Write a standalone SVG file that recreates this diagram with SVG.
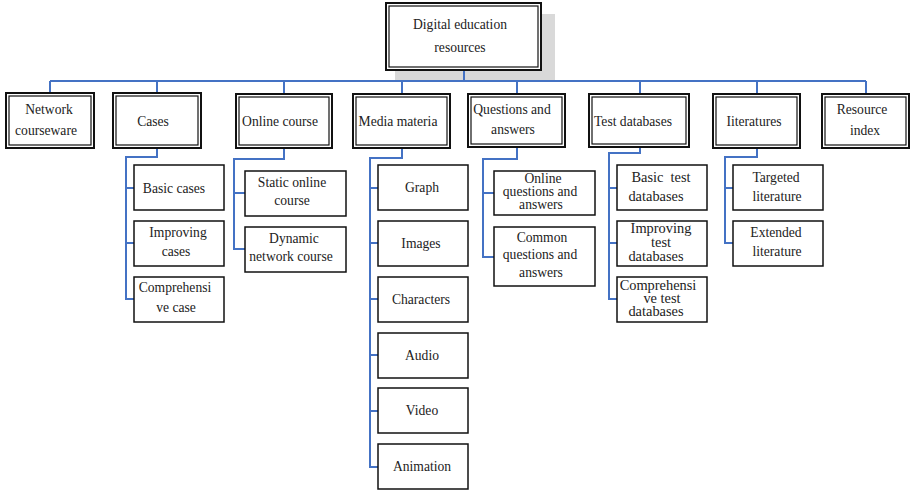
<svg xmlns="http://www.w3.org/2000/svg" width="911" height="491" viewBox="0 0 911 491" font-family="'Liberation Serif', 'DejaVu Serif', serif">
<style>
text{font-family:"Liberation Serif","DejaVu Serif",serif;font-size:13.6px;fill:#222;text-anchor:middle}
.big{font-size:14.4px}
.o{fill:#fff;stroke:#111;stroke-width:2}
.i{fill:none;stroke:#111;stroke-width:1.2}
.s{fill:#fff;stroke:#111;stroke-width:1.5}
.c{fill:none;stroke:#4472c4;stroke-width:2}
</style>
<rect x="395" y="14" width="160" height="68" fill="#d9d9d9"/>
<g id="connectors">
<path class="c" d="M464 71V81M50 81H866M50 81V92M157 81V92M284 81V93M402 81V93M517 81V93M640 81V93M757 81V93M866 81V93"/>
<path class="c" d="M157 149V157H126V299H134M126 188H134M126 243H134"/>
<path class="c" d="M284 149V159H234V249H245M234 193H245"/>
<path class="c" d="M402 149V158H370V467H378M370 188H378M370 243H378M370 299H378M370 355H378M370 411H378"/>
<path class="c" d="M517 148V159H483V257H494M483 193H494"/>
<path class="c" d="M640 148V153H609V299H617M609 188H617M609 243H617"/>
<path class="c" d="M757 149V157H725V243H733M725 188H733"/>
</g>
<g id="root"><rect class="o" x="386" y="3" width="155" height="67"/><rect class="i" x="389" y="6" width="149" height="61"/><text x="460" y="29">Digital education</text><text x="460" y="52">resources</text></g>
<g id="network"><rect class="o" x="6" y="93" width="88" height="55"/><rect class="i" x="9" y="96" width="82" height="49"/><text x="49" y="114">Network</text><text x="46" y="135">courseware</text></g>
<g id="cases"><rect class="o" x="113" y="93" width="88" height="55"/><rect class="i" x="116" y="96" width="82" height="49"/><text x="153" y="126">Cases</text></g>
<g id="online"><rect class="o" x="236" y="94" width="96" height="54"/><rect class="i" x="239" y="97" width="90" height="48"/><text x="280" y="126">Online course</text></g>
<g id="media"><rect class="o" x="353" y="94" width="97" height="54"/><rect class="i" x="356" y="97" width="91" height="48"/><text x="398" y="126">Media materia</text></g>
<g id="qa"><rect class="o" x="468" y="94" width="97" height="53"/><rect class="i" x="471" y="97" width="91" height="47"/><text x="512" y="114">Questions and</text><text x="513" y="134">answers</text></g>
<g id="testdb"><rect class="o" x="589" y="94" width="100" height="53"/><rect class="i" x="592" y="97" width="94" height="47"/><text x="633" y="126">Test databases</text></g>
<g id="lit"><rect class="o" x="713" y="94" width="87" height="54"/><rect class="i" x="716" y="97" width="81" height="48"/><text x="754" y="126">Iiteratures</text></g>
<g id="resindex"><rect class="o" x="822" y="94" width="87" height="54"/><rect class="i" x="825" y="97" width="81" height="48"/><text x="862" y="114">Resource</text><text x="865" y="135">index</text></g>
<g id="basiccases"><rect class="s" x="134" y="165" width="90" height="45"/><text x="174" y="193">Basic cases</text></g>
<g id="improvingcases"><rect class="s" x="134" y="221" width="90" height="45"/><text x="178" y="237">Improving</text><text x="176" y="256">cases</text></g>
<g id="comprehensivecase"><rect class="s" x="134" y="277" width="90" height="45"/><text x="175" y="292">Comprehensi</text><text x="176" y="312">ve case</text></g>
<g id="static"><rect class="s" x="245" y="171" width="101" height="45"/><text x="292" y="187">Static online</text><text x="292" y="205">course</text></g>
<g id="dynamic"><rect class="s" x="245" y="227" width="101" height="45"/><text x="294" y="243">Dynamic</text><text x="291" y="261">network course</text></g>
<g id="graph"><rect class="s" x="378" y="165" width="90" height="45"/><text x="422" y="192">Graph</text></g>
<g id="images"><rect class="s" x="378" y="221" width="90" height="45"/><text x="421" y="248">Images</text></g>
<g id="characters"><rect class="s" x="378" y="277" width="90" height="45"/><text x="421" y="304">Characters</text></g>
<g id="audio"><rect class="s" x="378" y="333" width="90" height="45"/><text x="422" y="360">Audio</text></g>
<g id="video"><rect class="s" x="378" y="388" width="90" height="45"/><text x="422" y="415">Video</text></g>
<g id="animation"><rect class="s" x="378" y="444" width="90" height="45"/><text x="422" y="471">Animation</text></g>
<g id="onlineqa"><rect class="s" x="494" y="171" width="101" height="44"/><text x="543" y="183">Online</text><text x="540" y="196">questions and</text><text x="541" y="209">answers</text></g>
<g id="commonqa"><rect class="s" x="494" y="227" width="101" height="59"/><text x="542" y="242">Common</text><text x="540" y="259">questions and</text><text x="541" y="277">answers</text></g>
<g id="basictest"><rect class="s" x="617" y="165" width="90" height="45"/><text class="big" x="661" y="182" xml:space="preserve">Basic  test</text><text class="big" x="656" y="201">databases</text></g>
<g id="improvingtest"><rect class="s" x="617" y="221" width="90" height="45"/><text class="big" x="661" y="233">Improving</text><text class="big" x="661" y="247">test</text><text class="big" x="656" y="261">databases</text></g>
<g id="comprehensivetest"><rect class="s" x="617" y="277" width="90" height="45"/><text class="big" x="658" y="290">Comprehensi</text><text class="big" x="662" y="303">ve test</text><text class="big" x="656" y="316">databases</text></g>
<g id="targeted"><rect class="s" x="733" y="165" width="90" height="45"/><text x="776" y="182">Targeted</text><text x="777" y="201">literature</text></g>
<g id="extended"><rect class="s" x="733" y="221" width="90" height="45"/><text x="776" y="237">Extended</text><text x="777" y="256">literature</text></g>
</svg>
